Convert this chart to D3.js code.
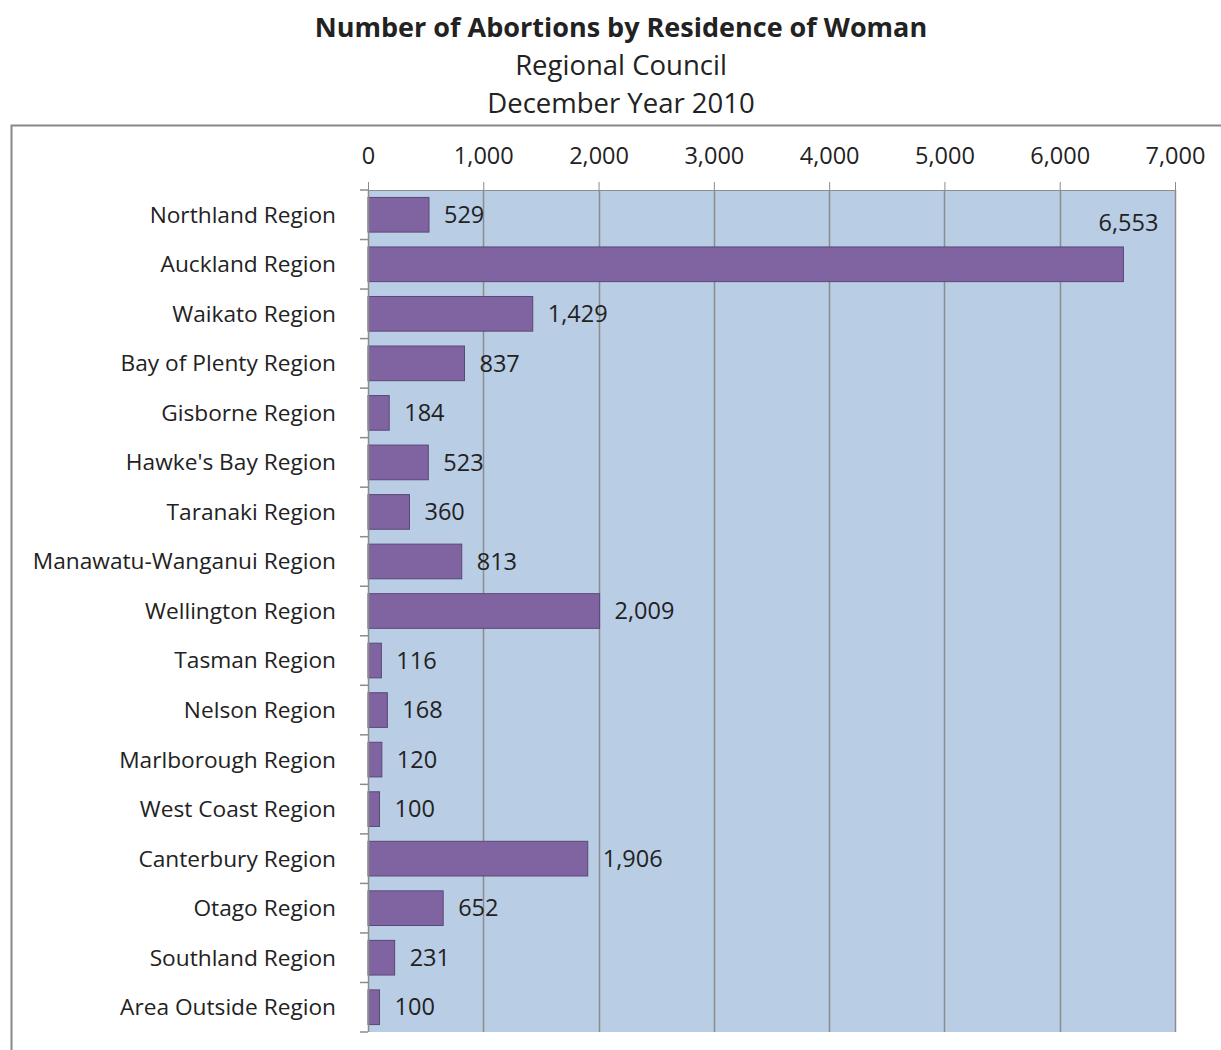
<!DOCTYPE html>
<html><head><meta charset="utf-8">
<script src="https://cdn.jsdelivr.net/npm/d3@7"></script>
<style>body{margin:0;background:#fff}svg{display:block}text{font-family:"Open Sans",sans-serif;fill:#222}</style>
</head><body>
<svg id="c" width="1221" height="1050"></svg>
<script>
const categories = ["Northland Region","Auckland Region","Waikato Region","Bay of Plenty Region","Gisborne Region","Hawke's Bay Region","Taranaki Region","Manawatu-Wanganui Region","Wellington Region","Tasman Region","Nelson Region","Marlborough Region","West Coast Region","Canterbury Region","Otago Region","Southland Region","Area Outside Region"];
const values = [529,6553,1429,837,184,523,360,813,2009,116,168,120,100,1906,652,231,100];
const tickValues = [0,1000,2000,3000,4000,5000,6000,7000];
const titleLines = ["Number of Abortions by Residence of Woman","Regional Council","December Year 2010"];

const svg = d3.select("#c");
const x = d3.scaleLinear().domain([0,7000]).range([368,1175]);
const y = d3.scaleBand().domain(categories).range([190,1032]).paddingInner(0.3).paddingOuter(0.15);
const step = (1032-190)/categories.length;

// outer border
svg.append("rect").attr("x",11.5).attr("y",125.5).attr("width",1240).attr("height",1000)
  .attr("fill","none").attr("stroke","#888").attr("stroke-width",2);

// titles
svg.append("text").attr("x",621).attr("y",37).attr("text-anchor","middle").attr("font-size",27).attr("font-weight","bold").text(titleLines[0]);
svg.append("text").attr("x",621).attr("y",75).attr("text-anchor","middle").attr("font-size",27.5).text(titleLines[1]);
svg.append("text").attr("x",621).attr("y",113).attr("text-anchor","middle").attr("font-size",27.5).text(titleLines[2]);

// plot background
svg.append("rect").attr("x",x(0)).attr("y",190).attr("width",x(7000)-x(0)).attr("height",1032-190).attr("fill","#b9cde5");

// gridlines
svg.append("g").selectAll("line").data(tickValues.slice(1)).join("line")
  .attr("x1",d=>Math.round(x(d))+0.5).attr("x2",d=>Math.round(x(d))+0.5).attr("y1",190).attr("y2",1032)
  .attr("stroke","#8c8c8c").attr("stroke-width",1.5);

// top axis
const xAxis = d3.axisTop(x).tickValues(tickValues).tickSize(8).tickPadding(18).tickFormat(d3.format(","));
const gx = svg.append("g").attr("transform","translate(0,190)").call(xAxis);
gx.select(".domain").attr("stroke","#8c8c8c");
gx.selectAll(".tick line").attr("stroke","#8c8c8c");
gx.selectAll("text").attr("font-size",23.5).attr("font-family","'Open Sans',sans-serif").attr("fill","#222");

// bars
svg.append("g").selectAll("rect").data(values).join("rect")
  .attr("x",x(0)).attr("y",(d,i)=>y(categories[i])).attr("width",d=>x(d)-x(0)).attr("height",y.bandwidth())
  .attr("fill","#8064a2").attr("stroke","#5a4875").attr("stroke-width",1);

// y axis line and ticks
svg.append("line").attr("x1",368.5).attr("x2",368.5).attr("y1",190).attr("y2",1032).attr("stroke","#8c8c8c").attr("stroke-width",1.5);
svg.append("g").selectAll("line").data(d3.range(categories.length+1)).join("line")
  .attr("x1",360).attr("x2",368).attr("y1",i=>190+i*step).attr("y2",i=>190+i*step).attr("stroke","#8c8c8c").attr("stroke-width",1.5);

// category labels
svg.append("g").selectAll("text").data(categories).join("text")
  .attr("x",336).attr("y",d=>y(d)+y.bandwidth()/2).attr("dy","0.35em").attr("text-anchor","end").attr("font-size",22.7).text(d=>d);

// value labels
const fmt = d3.format(",");
svg.append("g").selectAll("text").data(values).join("text")
  .attr("x",(d,i)=> d>6000 ? x(d)+5 : x(d)+15)
  .attr("y",(d,i)=> d>6000 ? y(categories[i])-24 : y(categories[i])+y.bandwidth()/2)
  .attr("dy","0.35em").attr("text-anchor",d=>d>6000?"middle":"start").attr("font-size",23.5).text(d=>fmt(d));
</script>
</body></html>
